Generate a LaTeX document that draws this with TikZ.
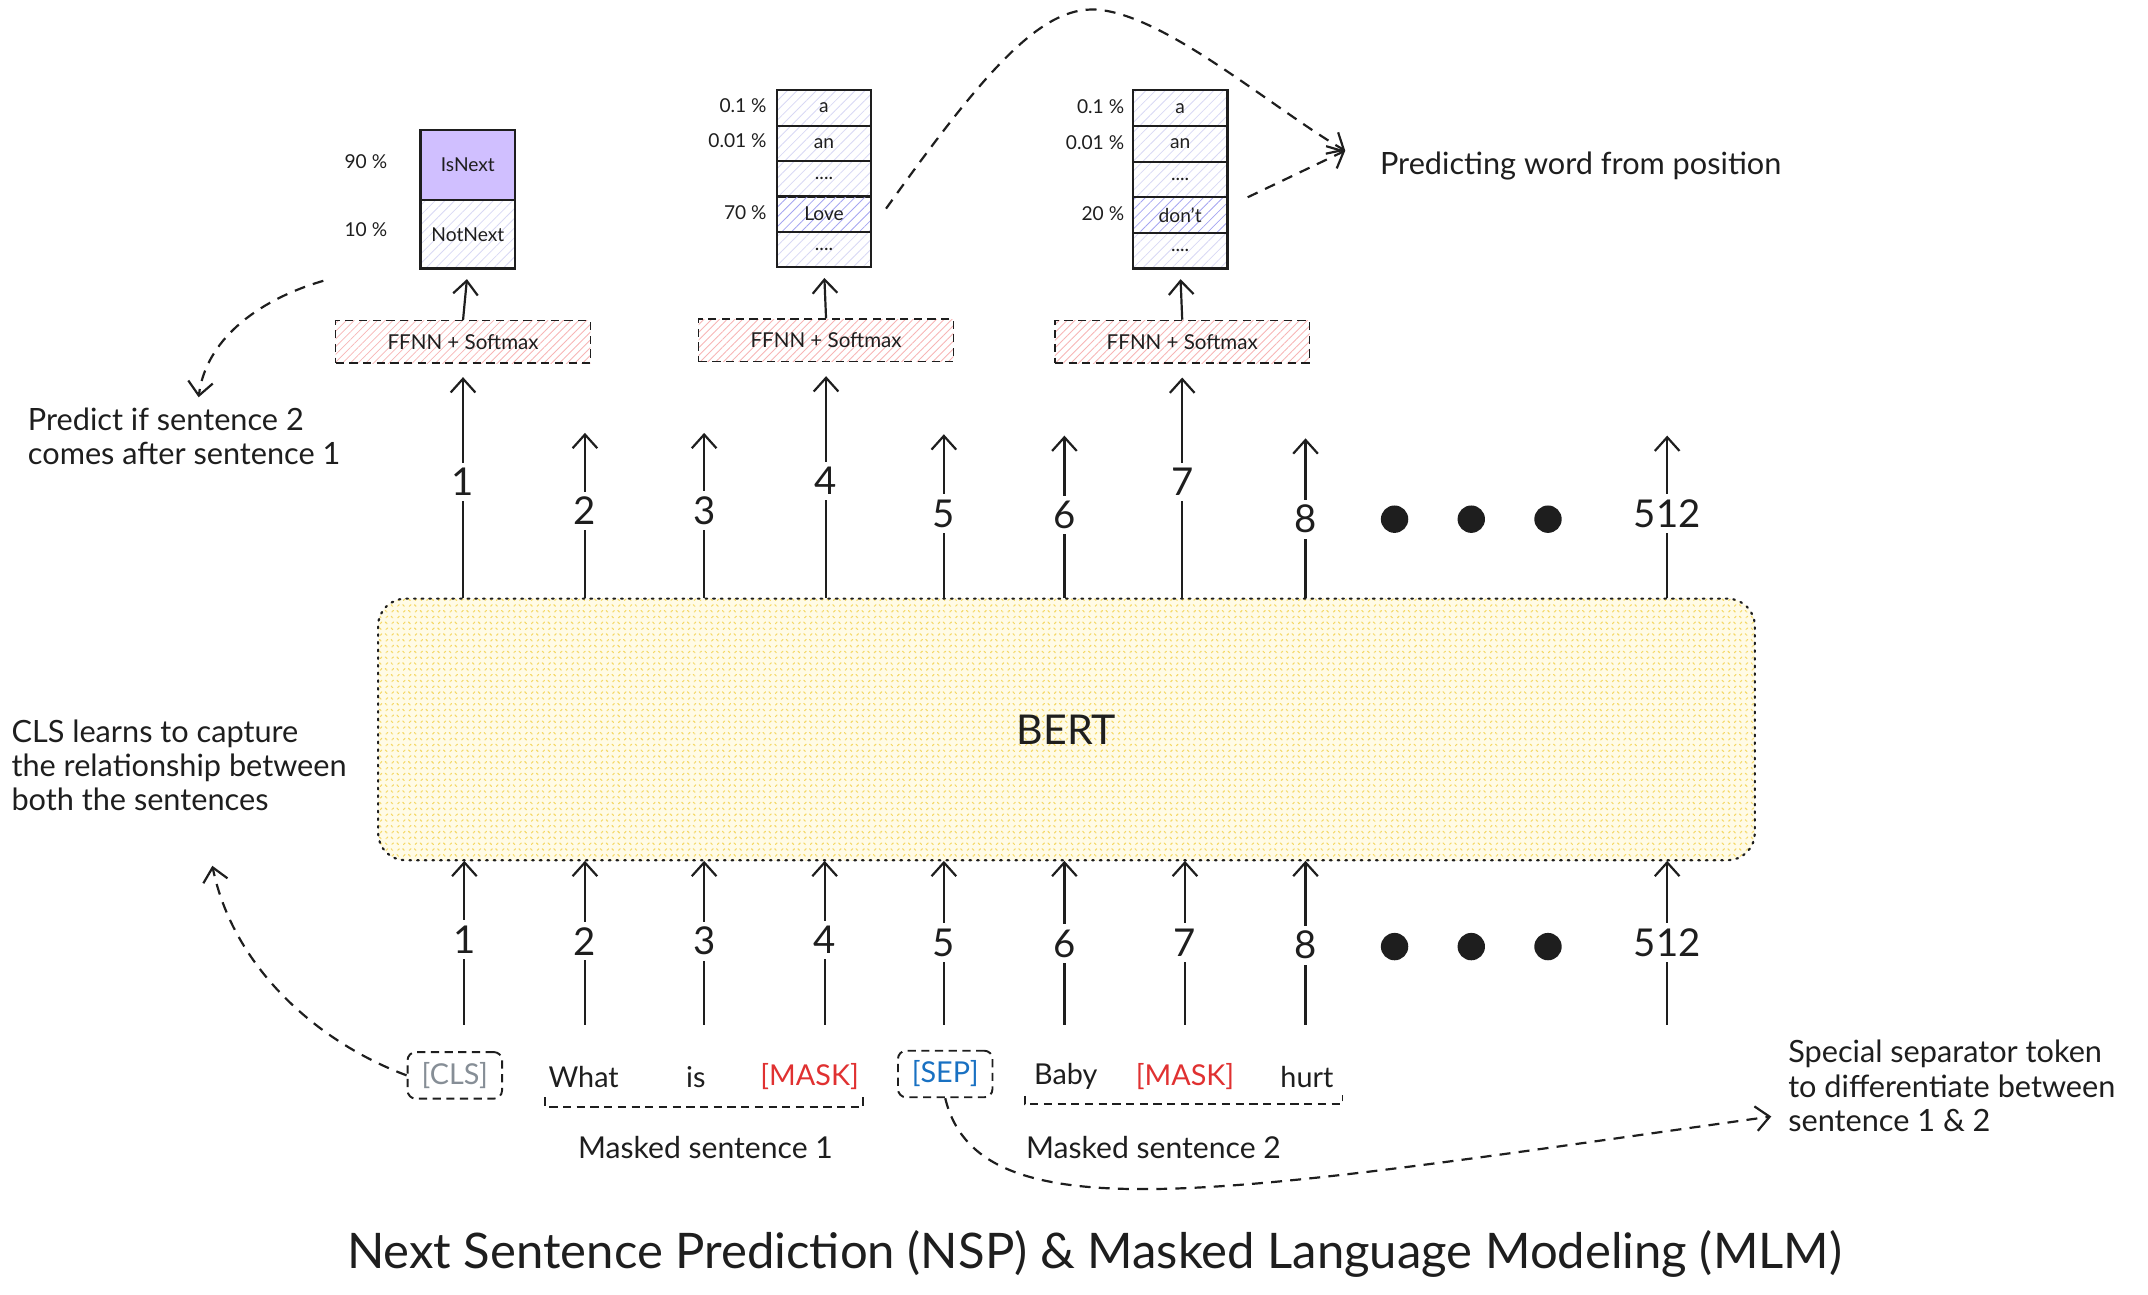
\documentclass[tikz,border=0pt]{standalone}
\usepackage{fontspec}
\setmainfont{Lato}
\usetikzlibrary{arrows.meta,patterns.meta}
\definecolor{ink}{HTML}{1E1E1E}
\definecolor{lav}{HTML}{D8D8F4}
\definecolor{lavdark}{HTML}{A5A5F0}
\definecolor{purp}{HTML}{D0BFFF}
\definecolor{pinkh}{HTML}{F7B5B5}
\definecolor{yelh}{HTML}{F5D866}
\definecolor{yelbg}{HTML}{FFFBE6}
\definecolor{clsgray}{HTML}{868E96}
\definecolor{sepblue}{HTML}{1971C2}
\definecolor{maskred}{HTML}{E03131}
\begin{document}
\begin{tikzpicture}[x=0.5pt,y=-0.5pt,
  every node/.style={text=ink},
  txt/.style={font=\fontsize{11.2}{12.5}\selectfont, align=left, inner sep=0pt},
  num/.style={font=\fontsize{14}{16}\selectfont, fill=white, inner sep=2pt},
  small/.style={font=\fontsize{7}{8}\selectfont, inner sep=1pt},
  arr/.style={draw=ink, line width=0.8pt, -{Straight Barb[length=5pt,width=9pt,line width=0.8pt]}},
  darr/.style={arr, dash pattern=on 4pt off 3pt},
  cell/.style={draw=ink, line width=0.8pt, minimum width=34.5pt, minimum height=13pt, inner sep=0pt,
    font=\fontsize{7}{8}\selectfont, pattern={Lines[angle=45,distance=2.5pt,line width=0.3pt]}, pattern color=lav},
  hot/.style={pattern color=lavdark},
  ffnn/.style={draw=ink, line width=0.6pt, dash pattern=on 3pt off 2pt, minimum width=93pt, minimum height=15.5pt,
    inner sep=0pt, font=\fontsize{7.5}{9}\selectfont, pattern={Lines[angle=45,distance=2pt,line width=0.3pt]}, pattern color=pinkh},
  tokbox/.style={draw=ink, line width=0.7pt, dash pattern=on 3pt off 2pt, rounded corners=3pt,
    minimum width=34.5pt, minimum height=17pt, inner sep=0pt, font=\fontsize{10.5}{12}\selectfont},
  tok/.style={font=\fontsize{10.5}{12}\selectfont, inner sep=1pt},
  bigdot/.style={circle, fill=ink, minimum size=10pt, inner sep=0pt}
]
\useasboundingbox (0,0) rectangle (1568,945);

% BERT block
\node[draw=ink, line width=0.8pt, dash pattern=on 0.6pt off 2.2pt, line cap=round, rounded corners=10pt,
  minimum width=502.5pt, minimum height=95.5pt, preaction={fill=yelbg},
  pattern={Hatch[angle=45,distance=3pt,line width=0.4pt]}, pattern color=yelh,
  font=\fontsize{15}{17}\selectfont] (bert) at (778.5,532.5) {BERT};

% FFNN boxes
\node[ffnn] (f1) at (338,249.5) {FFNN + Softmax};
\node[ffnn] (f2) at (603,248.5) {FFNN + Softmax};
\node[ffnn] (f3) at (863,249.5) {FFNN + Softmax};

% NSP output
\node[cell, minimum height=25.5pt, fill=purp, pattern color=purp] (isn) at (341.5,120.5) {IsNext};
\node[cell, minimum height=25pt] (notn) at (341.5,171) {NotNext};
\node[small, anchor=east] (p90) at (285,118) {90 \%};
\node[small, anchor=east] (p10) at (285,168) {10 \%};

% MLM output 1
\node[cell] (ma1) at (601.5,78.9) {a};
\node[cell] (mb1) at (601.5,104.7) {an};
\node[cell] (mc1) at (601.5,130.5) {....};
\node[cell, hot] (md1) at (601.5,156.3) {Love};
\node[cell] (me1) at (601.5,182.1) {....};
\node[small, anchor=east] (q11) at (562,77) {0.1 \%};
\node[small, anchor=east] (q12) at (562,103) {0.01 \%};
\node[small, anchor=east] (q13) at (562,155) {70 \%};

% MLM output 2
\node[cell] (ma2) at (861.5,79) {a};
\node[cell] (mb2) at (861.5,105) {an};
\node[cell] (mc2) at (861.5,131) {....};
\node[cell, hot] (md2) at (861.5,157) {don't};
\node[cell] (me2) at (861.5,183) {....};
\node[small, anchor=east] (q21) at (823,78) {0.1 \%};
\node[small, anchor=east] (q22) at (823,104) {0.01 \%};
\node[small, anchor=east] (q23) at (823,156) {20 \%};

% FFNN -> outputs
\draw[arr, shorten >=3.5pt] (f1.north) -- (notn.south);
\draw[arr, shorten >=3.5pt] (f2.north) -- (me1.south);
\draw[arr, shorten >=3.5pt] (f3.north) -- (me2.south);

% top arrows into FFNN
\draw[arr, shorten >=5pt] (bert.north -| f1.south) -- (f1.south);
\draw[arr, shorten >=5pt] (bert.north -| f2.south) -- (f2.south);
\draw[arr, shorten >=5pt] (bert.north -| f3.south) -- (f3.south);
\node[num] (n1) at (338,352) {1};
\node[num] (n4) at (603,351) {4};
\node[num] (n7) at (863,352) {7};

% other top arrows
\foreach \n/\x/\ty/\ly in {2/427/316/373, 3/514/316/373, 5/689/317/375, 6/777/318/376, 8/953/320/379, 512/1217/318/375} {
  \coordinate (u\n) at (\x,\ty);
  \draw[arr] (bert.north -| u\n) -- (u\n);
  \node[num] (n\n) at (\x,\ly) {\n};
}
\node[bigdot] (dt1) at (1018,379) {};
\node[bigdot] (dt2) at (1074,379) {};
\node[bigdot] (dt3) at (1130,379) {};

% bottom arrows
\foreach \n/\x/\ly in {1/339/686, 2/427/687, 3/514/687, 4/602/686, 5/689/688, 6/777/689, 7/865/688, 8/953/690, 512/1217/688} {
  \coordinate (b\n) at (\x,748);
  \draw[arr] (b\n) -- (bert.south -| b\n);
  \node[num] (bn\n) at (\x,\ly) {\n};
}
\node[bigdot] (db1) at (1018,691) {};
\node[bigdot] (db2) at (1074,691) {};
\node[bigdot] (db3) at (1130,691) {};

% tokens
\node[tokbox, text=clsgray] (cls) at (332,785) {[CLS]};
\node[tok] (what) at (426,786) {What};
\node[tok] (is) at (508,786) {is};
\node[tok, text=maskred] (mask1) at (591,786) {[MASK]};
\node[tokbox, text=sepblue] (sep) at (690,784) {[SEP]};
\node[tok] (baby) at (778,786) {Baby};
\node[tok, text=maskred] (mask2) at (865,786) {[MASK]};
\node[tok] (hurt) at (954,786) {hurt};

% brackets
\draw[ink, line width=0.7pt, dash pattern=on 3pt off 2pt] (398,801) -- (398,808) -- (630,808) -- (630,801);
\draw[ink, line width=0.7pt, dash pattern=on 3pt off 2pt] (748,800) -- (748,806) -- (980,806) -- (980,799);
\node[tok, font=\fontsize{11}{12}\selectfont] (ms1) at (515,838) {Masked sentence 1};
\node[tok, font=\fontsize{11}{12}\selectfont] (ms2) at (842,838) {Masked sentence 2};

% annotations
\node[txt, anchor=north west] (nspnote) at (20,297) {Predict if sentence 2\\comes after sentence 1};
\node[txt, anchor=north west] (clsnote) at (8,525) {CLS learns to capture\\the relationship between\\both the sentences};
\node[txt, anchor=north west] (sepnote) at (1305,759) {Special separator token\\to differentiate between\\sentence 1 \& 2};
\node[txt, anchor=west] (mlmnote) at (1007,121) {Predicting word from position};

\coordinate (nspend) at (145,290);
\coordinate (nspstart) at (236,205);
\draw[darr] (nspstart) .. controls (185,220) and (150,250) .. (nspend);

\coordinate (clsend) at (155,632);
\draw[darr] (cls.west) .. controls (230,760) and (170,705) .. (clsend);

\coordinate (sepend) at (1293,815);
\draw[darr] (sep.south) .. controls (715,905) and (900,870) .. (sepend);

\coordinate (mlmend) at (982,110);
\draw[darr] (md1.east) ++(10,-4) .. controls (720,50) and (760,5) .. (800,7) .. controls (850,10) and (930,80) .. (mlmend);
\draw[darr] (md2.east) ++(14,-13) -- (mlmend);

% title
\node[font=\fontsize{17.9}{20}\selectfont] (title) at (799,915) {Next Sentence Prediction (NSP) \& Masked Language Modeling (MLM)};
\end{tikzpicture}
\end{document}
